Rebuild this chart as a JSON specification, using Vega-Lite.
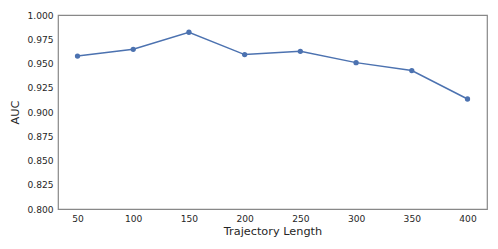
{
  "$schema": "https://vega.github.io/schema/vega-lite/v6.json",
  "autosize": "none",
  "padding": {"left": 58, "top": 15, "right": 11, "bottom": 40},
  "width": 429,
  "height": 194,
  "background": "white",
  "config": {
    "font": "DejaVu Sans",
    "view": {"stroke": "#888888", "strokeWidth": 1.2},
    "axis": {
      "grid": false,
      "ticks": false,
      "domain": false,
      "labelFont": "DejaVu Sans",
      "labelFontSize": 9.1,
      "labelColor": "#262626",
      "titleFont": "DejaVu Sans",
      "titleFontSize": 11.3,
      "titleFontWeight": "normal",
      "titleColor": "#262626",
      "labelPadding": 5
    }
  },
  "data": {
    "values": [
      {"length": 50, "auc": 0.9577},
      {"length": 100, "auc": 0.9646},
      {"length": 150, "auc": 0.9822},
      {"length": 200, "auc": 0.9592},
      {"length": 250, "auc": 0.9626},
      {"length": 300, "auc": 0.9509},
      {"length": 350, "auc": 0.9427},
      {"length": 400, "auc": 0.9134}
    ]
  },
  "encoding": {
    "x": {
      "field": "length",
      "type": "quantitative",
      "title": "Trajectory Length",
      "scale": {"domain": [32.5, 417.5], "nice": false, "zero": false},
      "axis": {"values": [50, 100, 150, 200, 250, 300, 350, 400], "titlePadding": 2}
    },
    "y": {
      "field": "auc",
      "type": "quantitative",
      "title": "AUC",
      "scale": {"domain": [0.8, 1.0], "nice": false, "zero": false},
      "axis": {"values": [0.8, 0.825, 0.85, 0.875, 0.9, 0.925, 0.95, 0.975, 1.0], "format": ".3f", "titlePadding": 6}
    }
  },
  "layer": [
    {"mark": {"type": "line", "color": "#4c72b0", "strokeWidth": 1.5}},
    {"mark": {"type": "point", "filled": true, "color": "#4c72b0", "opacity": 1, "size": 28}}
  ]
}
